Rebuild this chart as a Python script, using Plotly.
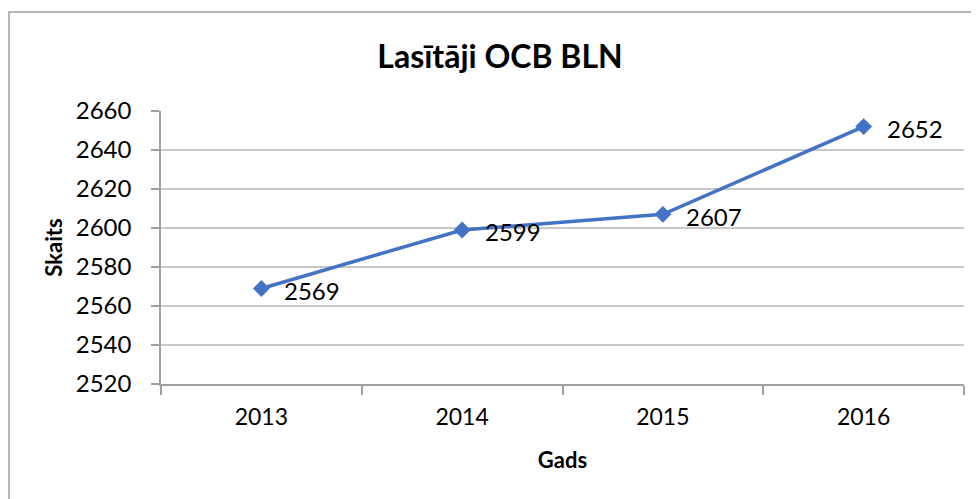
import plotly.graph_objects as go

years = ["2013", "2014", "2015", "2016"]
readers = [2569, 2599, 2607, 2652]
y_ticks = [2520, 2540, 2560, 2580, 2600, 2620, 2640, 2660]

title_text = "Lasītāji OCB BLN"
x_title = "Gads"
y_title = "Skaits"

FONT = "Lato, Calibri, Arial, sans-serif"
# the page body adds an 8px offset, so the figure is sized to fit the window
W, H = 971, 491
ML, MR, MT, MB = 153, 15, 103, 115

fig = go.Figure()
fig.add_trace(go.Scatter(
    x=years, y=readers,
    mode="lines+markers",
    line=dict(color="#4472C4", width=3.5),
    marker=dict(symbol="diamond", size=13, color="#4472C4"),
    cliponaxis=False,
    showlegend=False,
))

annotations = [
    dict(x=i, y=v, xref="x", yref="y", text=str(v), showarrow=False,
         xanchor="left", yanchor="middle", xshift=21, yshift=-2,
         font=dict(family=FONT, size=24, color="#000000"))
    for i, v in enumerate(readers)
]

fig.update_layout(
    width=W, height=H,
    paper_bgcolor="white", plot_bgcolor="white",
    margin=dict(l=ML, r=MR, t=MT, b=MB, autoexpand=False),
    title=dict(text="<b>" + title_text + "</b>", x=492 / W, xref="container", xanchor="center",
               y=1 - 49 / H, yref="container", yanchor="middle",
               font=dict(family=FONT, size=32, color="#000000")),
    font=dict(family=FONT, color="#000000"),
    xaxis=dict(
        type="category", range=[-0.5, len(years) - 0.5], automargin=False,
        showline=True, linecolor="#a0a0a0", linewidth=1.5,
        ticks="outside", tickson="boundaries", ticklen=9, tickcolor="#a0a0a0", tickwidth=1.5,
        showgrid=False,
        tickfont=dict(family=FONT, size=23, color="#000000"),
        ticklabelstandoff=12,
        title=dict(text="<b>" + x_title + "</b>", font=dict(family=FONT, size=22, color="#000000"), standoff=23),
    ),
    yaxis=dict(
        range=[y_ticks[0], y_ticks[-1]], automargin=False,
        tickvals=y_ticks,
        showline=True, linecolor="#a0a0a0", linewidth=1.5,
        ticks="outside", ticklen=8, tickcolor="#a0a0a0", tickwidth=1.5,
        showgrid=True, gridcolor="#c8c8c8", gridwidth=1.5,
        zeroline=False,
        tickfont=dict(family=FONT, size=24, color="#000000"),
        ticklabelstandoff=15,
        title=dict(text="<b>" + y_title + "</b>", font=dict(family=FONT, size=22, color="#000000"), standoff=7),
    ),
    annotations=annotations,
    shapes=[dict(type="rect", xref="paper", yref="paper",
                 x0=(1 - ML) / (W - ML - MR), x1=1.1,
                 y0=-0.6, y1=(H - 4 - MB) / (H - MT - MB),
                 line=dict(color="#a0a0a0", width=1.5), fillcolor="rgba(0,0,0,0)", layer="below")],
)

fig.write_html("out.html")
